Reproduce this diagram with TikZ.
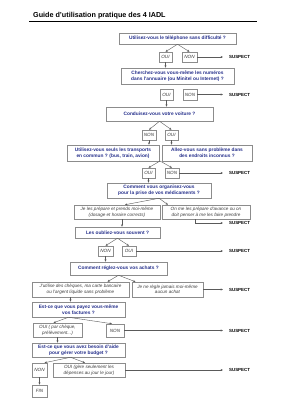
\documentclass[tikz,border=0pt]{standalone}
\usepackage{fontspec}
\setmainfont{Liberation Sans}
\usetikzlibrary{arrows.meta}
\definecolor{qblue}{RGB}{38,48,140}
\definecolor{bordergray}{RGB}{140,140,140}
\definecolor{agray}{RGB}{60,60,60}
\definecolor{linegray}{RGB}{90,90,90}
\tikzset{
  qbox/.style={draw=bordergray, line width=0.5pt, inner sep=0pt, fill=white,
    font=\fontsize{4.8}{5.8}\selectfont\bfseries, text=qblue, align=center},
  abox/.style={draw=bordergray, line width=0.5pt, inner sep=0pt, fill=white,
    font=\fontsize{4.6}{5.6}\selectfont\itshape, text=agray, align=center},
  conn/.style={draw=linegray, line width=0.4pt, -{Stealth[length=2.4pt,width=2pt]}},
  susp/.style={anchor=west, inner sep=0pt, font=\fontsize{4.4}{5}\selectfont\bfseries, text=black},
}
\begin{document}
\begin{tikzpicture}[x=1pt,y=-1pt]
\useasboundingbox (0,0) rectangle (283,400);
\fill[white] (0,0) rectangle (283,400);
% title
\node[anchor=base west, inner sep=0pt, font=\fontsize{7.2}{8}\selectfont\bfseries] (title) at (33,17.5) {Guide d'utilisation pratique des 4 IADL};
\coordinate (r1) at (29,21);
\coordinate (r2) at (257,21);
\draw[line width=0.6pt] (r1) -- (r2);

% level 1
\node[qbox, minimum width=117pt, minimum height=11pt] (q1) at (177.5,38.5) {Utilisez-vous le téléphone sans difficulté ?};
\node[abox, minimum width=13pt, minimum height=10pt] (a1o) at (165.5,57) {OUI};
\node[abox, minimum width=15pt, minimum height=10pt] (a1n) at (189.5,57) {NON};
\node[susp] (s1) at (229,57) {SUSPECT};
\coordinate (e1) at (223,57);

% level 2
\node[qbox, minimum width=113pt, minimum height=16pt] (q2) at (177.5,76) {Cherchez-vous vous-même les numéros\\dans l'annuaire (ou Minitel ou Internet) ?};
\node[abox, minimum width=13pt, minimum height=11pt] (a2o) at (166.5,94.5) {OUI};
\node[abox, minimum width=14pt, minimum height=11pt] (a2n) at (190,94.5) {NON};
\node[susp] (s2) at (229,94.5) {SUSPECT};
\coordinate (e2) at (223,94.5);

% level 3
\node[qbox, minimum width=107pt, minimum height=14pt] (q3) at (159.5,114) {Conduisez-vous votre voiture ?};
\node[abox, minimum width=14pt, minimum height=10pt] (a3n) at (149,135) {NON};
\node[abox, minimum width=13pt, minimum height=10pt] (a3o) at (171.5,135) {OUI};

% level 4
\node[qbox, minimum width=92pt, minimum height=16pt] (q4a) at (113,153) {Utilisez-vous seuls les transports\\en commun ? (bus, train, avion)};
\node[qbox, minimum width=90pt, minimum height=16pt] (q4b) at (207,153) {Allez-vous sans problème dans\\des endroits inconnus ?};
\coordinate (f4) at (160,161);
\node[abox, minimum width=13pt, minimum height=10pt] (a4o) at (148.5,173) {OUI};
\node[abox, minimum width=14pt, minimum height=10pt] (a4n) at (172,173) {NON};
\node[susp] (s4) at (229,173) {SUSPECT};
\coordinate (e4) at (223,173);

% level 5
\node[qbox, minimum width=104pt, minimum height=15pt] (q5) at (159,190.5) {Comment vous organisez-vous\\pour la prise de vos médicaments ?};
\node[abox, minimum width=86pt, minimum height=14pt] (a5a) at (117,212) {Je les prépare et prends moi-même\\(dosage et horaire corrects)};
\node[abox, minimum width=88pt, minimum height=14pt] (a5b) at (206,212) {On me les prépare d'avance ou on\\doit penser à me les faire prendre};
\coordinate (k5) at (195,223);
\node[susp] (s5) at (229,223) {SUSPECT};
\coordinate (e5) at (223,223);

% level 6
\node[qbox, minimum width=85pt, minimum height=11pt] (q6) at (117.5,232.5) {Les oubliez-vous souvent ?};
\node[abox, minimum width=15pt, minimum height=10pt] (a6n) at (105.5,251) {NON};
\node[abox, minimum width=14pt, minimum height=10pt] (a6o) at (129,251) {OUI};
\node[susp] (s6) at (229,251) {SUSPECT};
\coordinate (e6) at (223,251);

% level 7
\node[qbox, minimum width=97pt, minimum height=13pt] (q7) at (118.5,268.5) {Comment réglez-vous vos achats ?};
\node[abox, minimum width=97pt, minimum height=15pt] (a7a) at (80.5,289.5) {J'utilise des chèques, ma carte bancaire\\ou l'argent liquide sans problème};
\node[abox, minimum width=71pt, minimum height=15pt] (a7b) at (167.5,289.5) {Je ne règle jamais moi-même\\aucun achat};
\node[susp] (s7) at (229,289.5) {SUSPECT};
\coordinate (e7) at (223,289.5);

% level 8
\node[qbox, minimum width=93pt, minimum height=15pt] (q8) at (78.5,309.5) {Est-ce que vous payez vous-même\\vos factures ?};
\node[abox, minimum width=49pt, minimum height=14pt] (a8o) at (57.5,330) {OUI ( par chèque,\\prélèvement...)};
\node[abox, minimum width=18pt, minimum height=13pt] (a8n) at (115,330.5) {NON};
\node[susp] (s8) at (229,330.5) {SUSPECT};
\coordinate (e8) at (223,330.5);

% level 9
\node[qbox, minimum width=93pt, minimum height=14pt] (q9) at (78.5,350) {Est-ce que vous avez besoin d'aide\\pour gérer votre budget ?};
\node[abox, minimum width=15pt, minimum height=14pt] (a9n) at (39.5,370) {NON};
\node[abox, minimum width=72pt, minimum height=14pt] (a9o) at (89,370) {OUI (gère seulement les\\dépenses au jour le jour)};
\node[susp] (s9) at (229,370) {SUSPECT};
\coordinate (e9) at (223,370);
\node[abox, minimum width=15pt, minimum height=12pt] (fin) at (39.5,391) {FIN};

% connectors
\draw[conn] (q1.south) -- (a1o.north);
\draw[conn] (q1.south) -- (a1n.north);
\draw[conn] (a1n.east) -- (e1);
\draw[conn] (a1o.south) -- (a1o.south |- q2.north);

\draw[conn] (a2n.east) -- (e2);
\draw[conn] (a2o.south) -- (a2o.south |- q3.north);

\draw[conn] (q3.south) -- (a3n.north);
\draw[conn] (q3.south) -- (a3o.north);
\draw[conn] (a3n.south) -- (a3n.south |- q4a.north);
\draw[conn] (a3o.south) -- (a3o.south |- q4b.north);

\draw[conn] (f4) -- (a4o.north);
\draw[conn] (f4) -- (a4n.north);
\draw[conn] (a4n.east) -- (e4);
\draw[conn] (a4o.south) -- (a4o.south |- q5.north);

\draw[conn] (q5.south) -- ([xshift=8pt]a5a.north);
\draw[conn] (q5.south) -- ([xshift=-38pt]a5b.north);
\draw[conn] (k5 |- a5b.south) -- (k5) -- (e5);
\draw[conn] ([xshift=5pt]a5a.south) -- ([xshift=5pt]a5a.south |- q6.north);

\draw[conn] (q6.south) -- (a6n.north);
\draw[conn] (q6.south) -- (a6o.north);
\draw[conn] (a6o.east) -- (e6);
\draw[conn] (a6n.south) -- (a6n.south |- q7.north);

\draw[conn] (q7.south) -- ([xshift=27pt]a7a.north);
\draw[conn] (q7.south) -- ([xshift=-32pt]a7b.north);
\draw[conn] (a7b.east) -- (e7);
\draw[conn] ([xshift=-10pt]a7a.south) -- ([xshift=-10pt]a7a.south |- q8.north);

\draw[conn] ([xshift=-10pt]q8.south) -- ([xshift=-4pt]a8o.north);
\draw[conn] ([xshift=-10pt]q8.south) -- ([xshift=-3pt]a8n.north);
\draw[conn] (a8n.east) -- (e8);
\draw[conn] (a8o.south) -- (a8o.south |- q9.north);

\draw[conn] ([xshift=-8pt]q9.south) -- ([xshift=5pt]a9n.north);
\draw[conn] ([xshift=-8pt]q9.south) -- ([xshift=-4pt]a9o.north);
\draw[conn] (a9o.east) -- (e9);
\draw[conn] (a9n.south) -- (fin.north);
\end{tikzpicture}
\end{document}
